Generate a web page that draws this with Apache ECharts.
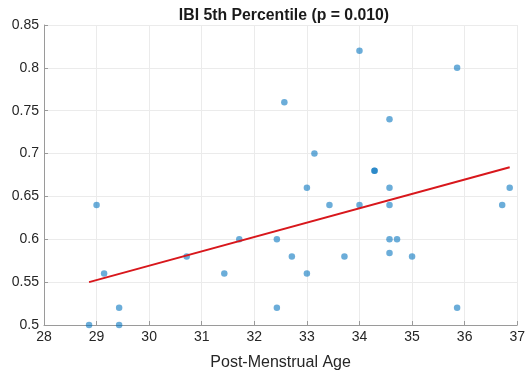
<!DOCTYPE html>
<html>
<head>
<meta charset="utf-8">
<script src="https://cdn.jsdelivr.net/npm/echarts@6/dist/echarts.min.js"></script>
<style>
  html, body { margin: 0; padding: 0; background: #fff; }
  #chart { width: 528px; height: 376px; }
</style>
</head>
<body>
<div id="chart"></div>
<script>
// post-menstrual age (weeks) and IBI 5th percentile
const ages = [
  28.857, 29.0, 29.143, 29.429, 29.429, 30.714, 31.429, 31.714,
  32.429, 32.429, 32.571, 32.714, 33.0, 33.0, 33.143, 33.429,
  33.714, 34.0, 34.0, 34.286, 34.286, 34.571, 34.571, 34.571,
  34.571, 34.571, 34.714, 35.0, 35.857, 35.857, 36.714, 36.857
];
const ibi5 = [
  0.50, 0.64, 0.56, 0.52, 0.50, 0.58, 0.56, 0.60,
  0.60, 0.52, 0.76, 0.58, 0.66, 0.56, 0.70, 0.64,
  0.58, 0.82, 0.64, 0.68, 0.68, 0.74, 0.66, 0.64,
  0.60, 0.584, 0.60, 0.58, 0.80, 0.52, 0.64, 0.66
];
// linear fit endpoints
const fitX = [28.857, 36.857];
const fitY = [0.550, 0.684];

const xTicks = { min: 28, max: 37, step: 1 };
const yTicks = { min: 0.5, max: 0.85, step: 0.05 };

const chart = echarts.init(document.getElementById("chart"));

const axisColor = "#9a9a9a";
const labelColor = "#262626";
const font = "'Liberation Sans', Arial, Helvetica, sans-serif";

chart.setOption({
  animation: false,
  title: {
    text: "IBI 5th Percentile (p = 0.010)",
    left: 279,
    textAlign: "center",
    top: 3,
    textStyle: { fontFamily: font, fontSize: 15.8, fontWeight: "bold", color: "#1a1a1a" },
  },
  grid: { left: 44, right: 7, top: 25, bottom: 51 },
  xAxis: {
    type: "value",
    min: xTicks.min,
    max: xTicks.max,
    interval: xTicks.step,
    name: "Post-Menstrual Age",
    nameLocation: "middle",
    nameGap: 30,
    nameTextStyle: { fontFamily: font, fontSize: 16, color: labelColor },
    axisLine: { show: true, lineStyle: { color: axisColor, width: 1 } },
    axisTick: { show: true, inside: true, length: 4, lineStyle: { color: axisColor } },
    axisLabel: { fontFamily: font, fontSize: 14, color: labelColor, margin: 5 },
    splitLine: { show: true, lineStyle: { color: "#ebebeb", width: 1 } },
  },
  yAxis: {
    type: "value",
    min: yTicks.min,
    max: yTicks.max,
    interval: yTicks.step,
    axisLine: { show: true, lineStyle: { color: axisColor, width: 1 } },
    axisTick: { show: true, inside: true, length: 4, lineStyle: { color: axisColor } },
    axisLabel: {
      fontFamily: font, fontSize: 14, color: labelColor, margin: 5,
      formatter: (v) => String(parseFloat(v.toFixed(2))),
    },
    splitLine: { show: true, lineStyle: { color: "#ebebeb", width: 1 } },
  },
  series: [
    {
      type: "scatter",
      data: ages.map((a, i) => [a, ibi5[i]]),
      symbol: "circle",
      symbolSize: 6.5,
      itemStyle: { color: "rgb(0,114,189)", opacity: 0.58 },
      z: 2,
    },
    {
      type: "line",
      data: fitX.map((x, i) => [x, fitY[i]]),
      showSymbol: false,
      lineStyle: { color: "#d8171c", width: 2 },
      z: 3,
    },
  ],
});
</script>
</body>
</html>
